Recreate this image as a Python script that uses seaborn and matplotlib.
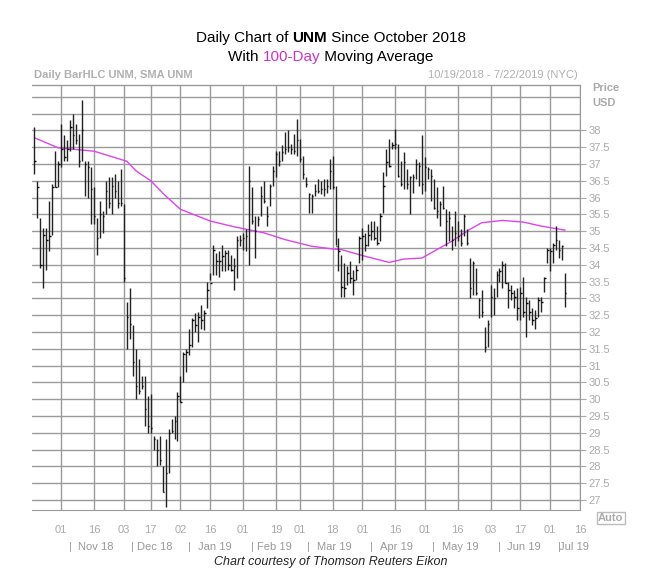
import pandas as pd
import numpy as np
import matplotlib
matplotlib.use("Agg")
import matplotlib.pyplot as plt
import seaborn as sns

sns.set_style("white")
plt.rcParams["font.family"] = "Liberation Sans"

# ---- data: daily high / low / close ----
highs = [38.1, 36.5, 35.4, 35.1, 35.1, 35.9, 36.4, 37.4, 37.1, 38.2, 37.85, 37.7, 38.3, 38.5, 38.2,
         37.9, 38.9, 37.1, 37.1, 36.9, 36.3, 35.4, 35.9, 35.6, 36.5, 36.6, 36.6, 36.7, 36.5, 36.85,
         35.8, 32.9, 33.3, 32.2, 31.5, 31.2, 30.7, 30.7, 30.1, 30.15, 28.9, 28.8, 28.9, 28.0, 28.8,
         29.1, 29.4, 29.5, 30.2, 30.7, 31.4, 31.5, 32.1, 32.4, 32.55, 32.6, 32.8, 32.65, 33.5, 33.75,
         34.6, 34.35, 34.4, 34.6, 34.45, 34.45, 34.3, 34.2, 34.85, 34.9, 34.95, 35.05, 36.95, 36.3, 35.45,
         35.45, 36.35, 36.5, 35.75, 36.4, 36.95, 37.4, 37.4, 37.55, 37.95, 38.0, 37.6, 37.9, 38.35, 37.75,
         37.25, 36.6, 36.15, 36.1, 36.4, 36.55, 36.5, 36.55, 36.55, 37.15, 37.25, 36.35, 34.8, 34.3, 34.05,
         33.95, 34.1, 33.85, 34.0, 34.85, 35.1, 34.95, 35.2, 35.3, 35.3, 35.15, 35.55, 36.75, 37.45, 37.75,
         37.65, 38.05, 37.6, 37.1, 37.35, 36.85, 36.65, 36.7, 37.15, 37.05, 37.85, 37.2, 36.9, 36.85, 36.55,
         36.3, 35.9, 36.35, 35.65, 35.6, 35.15, 35.6, 35.3, 35.05, 35.5, 35.05, 34.2, 34.1, 33.9, 33.0,
         33.25, 32.15, 32.35, 33.4, 33.3, 33.8, 33.9, 34.1, 34.05, 33.5, 33.4, 33.25, 33.3, 33.35, 33.65,
         33.05, 32.95, 32.7, 32.65, 33.05, 33.05, 33.65, 34.5, 34.5, 34.65, 35.15, 34.75, 34.6, 33.75]
lows = [36.7, 35.4, 33.9, 33.3, 33.85, 34.4, 34.9, 36.3, 36.3, 36.9, 37.1, 37.1, 37.4, 37.45, 37.6,
        36.9, 37.1, 36.05, 36.0, 35.2, 35.2, 34.3, 34.8, 34.95, 35.5, 35.7, 35.5, 36.0, 35.7, 35.75,
        33.5, 31.5, 31.8, 30.7, 30.0, 30.15, 30.3, 29.2, 29.0, 29.0, 28.5, 28.0, 28.05, 27.25, 26.8,
        27.8, 29.0, 28.8, 28.75, 29.9, 30.5, 30.8, 31.3, 31.55, 32.0, 31.7, 32.1, 32.05, 32.7, 33.55,
        33.7, 33.7, 33.65, 33.8, 33.8, 33.85, 33.8, 33.25, 33.6, 34.55, 34.45, 34.4, 34.0, 35.2, 34.2,
        35.15, 35.45, 35.85, 35.15, 35.75, 36.35, 36.6, 36.95, 37.1, 37.3, 37.35, 37.3, 37.3, 37.25, 37.05,
        36.55, 36.3, 35.55, 35.55, 36.05, 36.15, 36.1, 36.05, 36.15, 36.25, 36.25, 34.6, 33.8, 33.05, 33.05,
        33.4, 33.45, 33.1, 33.55, 34.05, 34.15, 34.4, 34.55, 34.75, 34.75, 34.6, 34.7, 35.55, 36.65, 36.9,
        37.45, 37.45, 36.6, 36.35, 36.25, 36.25, 35.5, 36.15, 36.55, 36.35, 36.1, 36.2, 36.55, 35.9, 35.65,
        35.4, 35.15, 35.65, 34.55, 34.7, 34.45, 34.55, 34.7, 34.55, 34.85, 34.6, 33.0, 33.1, 33.1, 32.4,
        32.45, 31.4, 31.55, 32.45, 32.5, 33.05, 33.5, 33.3, 33.45, 32.7, 32.95, 32.7, 32.35, 32.35, 32.45,
        31.85, 32.35, 32.2, 32.1, 32.45, 32.6, 33.2, 34.05, 33.8, 34.05, 34.45, 34.2, 34.15, 32.75]
closes = [37.1, 36.3, 34.0, 34.9, 34.75, 34.85, 36.3, 36.3, 37.0, 37.45, 37.2, 37.45, 38.1, 37.85, 37.7,
          37.1, 38.0, 37.0, 36.9, 36.25, 35.45, 34.8, 35.5, 35.45, 36.2, 35.85, 36.35, 36.2, 35.85, 35.85,
          33.6, 32.45, 32.25, 31.1, 30.4, 30.25, 30.4, 29.7, 29.2, 29.15, 28.8, 28.5, 28.2, 27.25, 27.8,
          29.0, 29.05, 29.35, 30.1, 29.9, 31.35, 31.4, 31.6, 32.35, 32.2, 32.45, 32.35, 32.55, 33.25, 33.45,
          34.45, 34.1, 34.1, 34.25, 34.35, 34.0, 33.85, 33.95, 34.75, 34.75, 34.8, 34.85, 36.5, 35.3, 35.0,
          35.35, 36.05, 35.9, 35.45, 36.35, 36.8, 37.3, 37.1, 37.35, 37.45, 37.5, 37.45, 37.4, 37.7, 37.15,
          36.7, 36.4, 36.1, 36.05, 36.2, 36.2, 36.25, 36.25, 36.35, 36.8, 36.3, 34.55, 34.4, 33.35, 33.3,
          33.75, 33.6, 33.55, 33.85, 34.8, 34.85, 34.6, 34.9, 35.0, 34.8, 34.65, 35.45, 36.35, 37.05, 36.95,
          37.55, 37.6, 36.65, 36.4, 37.05, 36.4, 36.6, 36.6, 37.0, 36.95, 36.4, 36.9, 36.85, 36.65, 35.7,
          35.6, 35.8, 35.7, 35.3, 35.4, 34.75, 34.95, 34.85, 34.65, 35.45, 34.65, 33.3, 34.05, 33.15, 32.95,
          32.6, 31.55, 32.25, 33.05, 33.0, 33.7, 33.8, 34.0, 33.45, 33.25, 33.15, 33.05, 32.7, 33.15, 32.6,
          32.85, 32.6, 32.35, 32.4, 32.95, 32.9, 33.6, 34.45, 34.4, 34.6, 34.75, 34.45, 34.55, 33.15]

# 100-day SMA, sampled at bar positions
sma_idx = [0, 8, 20, 31, 34, 39, 44, 49, 59, 67, 77, 84, 93, 100,
           103, 111, 119, 124, 130, 134, 140, 146, 150, 157, 164, 170, 179]
sma_vals = [37.78, 37.48, 37.38, 37.08, 36.8, 36.5, 36.05, 35.65, 35.3, 35.13, 34.95, 34.75, 34.55, 34.47,
            34.45, 34.25, 34.07, 34.17, 34.2, 34.4, 34.7, 35.05, 35.25, 35.32, 35.27, 35.15, 35.03]

grid_days = ["2018-11-01", "2018-11-16", "2018-12-03", "2018-12-17", "2019-01-02", "2019-01-16",
             "2019-02-01", "2019-02-19", "2019-03-01", "2019-03-18", "2019-04-01", "2019-04-16",
             "2019-05-01", "2019-05-16", "2019-06-03", "2019-06-17", "2019-07-01", "2019-07-16"]
months = ["Nov 18", "Dec 18", "Jan 19", "Feb 19", "Mar 19", "Apr 19", "May 19", "Jun 19", "Jul 19"]

# trading-day axis (the chart spaces sessions evenly)
holidays = ["2018-11-22", "2018-12-05", "2018-12-25", "2019-01-01", "2019-01-21",
            "2019-02-18", "2019-04-19", "2019-05-27", "2019-07-04"]
bday = pd.offsets.CustomBusinessDay(holidays=holidays)
cal = pd.date_range("2018-10-19", "2019-07-31", freq=bday)
grid_x = [int(cal.searchsorted(pd.Timestamp(d))) for d in grid_days]

df = pd.DataFrame({"x": np.arange(len(closes)), "high": highs, "low": lows, "close": closes})
sma = pd.DataFrame({"x": np.clip(sma_idx, 0, len(closes) - 1), "sma": sma_vals})

# ---- figure ----
fig = plt.figure(figsize=(6.62, 5.88), dpi=100)
ax = fig.add_axes([32 / 662, 1 - 510 / 588, 548 / 662, 425 / 588])

gcol = "#9a9a9a"
for gx in grid_x:
    ax.axvline(gx, color=gcol, lw=1, zorder=0)
for y in np.arange(27, 39.01, 0.5):
    ax.axhline(y, color=gcol, lw=1, zorder=0)

ax.vlines(df["x"], df["low"], df["high"], color="#222222", lw=1, zorder=3)
ax.hlines(df["close"], df["x"], df["x"] + 0.45, color="black", lw=1, zorder=3)
sns.lineplot(data=sma, x="x", y="sma", ax=ax, color="#dd44ee", lw=1, zorder=2)

ax.set_xlim(-0.8, grid_x[-1])
ax.set_ylim(26.7, 39.35)
ax.set_xlabel("")
ax.set_ylabel("")
for s in ["left", "top"]:
    ax.spines[s].set_visible(False)
ax.spines["right"].set_color(gcol)
ax.spines["bottom"].set_color(gcol)

ax.yaxis.tick_right()
yt = np.arange(27, 38.01, 0.5)
ax.set_yticks(yt)
ax.set_yticklabels([f"{v:g}" for v in yt])
ax.tick_params(axis="y", colors="#aaaaaa", labelsize=8, length=4, pad=2)
ax.set_xticks(grid_x)
ax.set_xticklabels([pd.Timestamp(d).strftime("%d") for d in grid_days])
ax.tick_params(axis="x", colors="#aaaaaa", labelsize=8, length=3, pad=8)

# month row: separators at month starts, names between
month_starts = [grid_x[i] for i in (0, 2, 4, 6, 8, 10, 12, 14, 16)] + [grid_x[-1] + 10]
tr = ax.get_xaxis_transform()
for i, m in enumerate(months):
    a, b = month_starts[i], month_starts[i + 1]
    ax.text(a + 3, -0.075, "|", transform=tr, color="#999999", fontsize=8, ha="center", va="top")
    ax.text(min((a + b) / 2, grid_x[-1] - 3) + 1, -0.075, m, transform=tr, color="#999999",
            fontsize=8, ha="center", va="top")

fig.text(592 / 662, 1 - 91 / 588, "Price", color="#aaaaaa", fontsize=8, fontweight="bold")
fig.text(592 / 662, 1 - 106 / 588, "USD", color="#aaaaaa", fontsize=8, fontweight="bold")
fig.text(598 / 662, 1 - 521 / 588, "Auto", color="#aaaaaa", fontsize=8, fontweight="bold",
         bbox=dict(facecolor="white", edgecolor="#bbbbbb", pad=1))

# header strip
fig.text(34 / 662, 1 - 78 / 588, "Daily BarHLC UNM, SMA UNM", color="#b0b0b0", fontsize=8, fontweight="bold")
fig.text(578 / 662, 1 - 78 / 588, "10/19/2018 - 7/22/2019 (NYC)", color="#b0b0b0", fontsize=8, ha="right")
fig.add_artist(plt.Line2D([32 / 662, 580 / 662], [1 - 85 / 588] * 2, color=gcol, lw=1))

# title, drawn piece by piece
def line_of_text(y, parts):
    fig.canvas.draw()
    r = fig.canvas.get_renderer()
    objs = [fig.text(0, y, s, fontsize=11, color=c, fontweight=w, va="center") for s, c, w in parts]
    widths = [o.get_window_extent(r).width for o in objs]
    x = (662 - sum(widths)) / 2
    for o, w in zip(objs, widths):
        o.set_x(x / 662)
        x += w

line_of_text(1 - 38 / 588, [("Daily Chart of ", "black", "normal"), ("UNM", "black", "bold"),
                            (" Since October 2018", "black", "normal")])
line_of_text(1 - 57 / 588, [("With ", "black", "normal"), ("100-Day", "#cc33cc", "normal"),
                            (" Moving Average", "black", "normal")])

fig.text(0.5, 1 - 562 / 588, "Chart courtesy of Thomson Reuters Eikon", fontsize=9, style="italic",
         ha="center", va="center")

fig.savefig("out.png", dpi=100)
